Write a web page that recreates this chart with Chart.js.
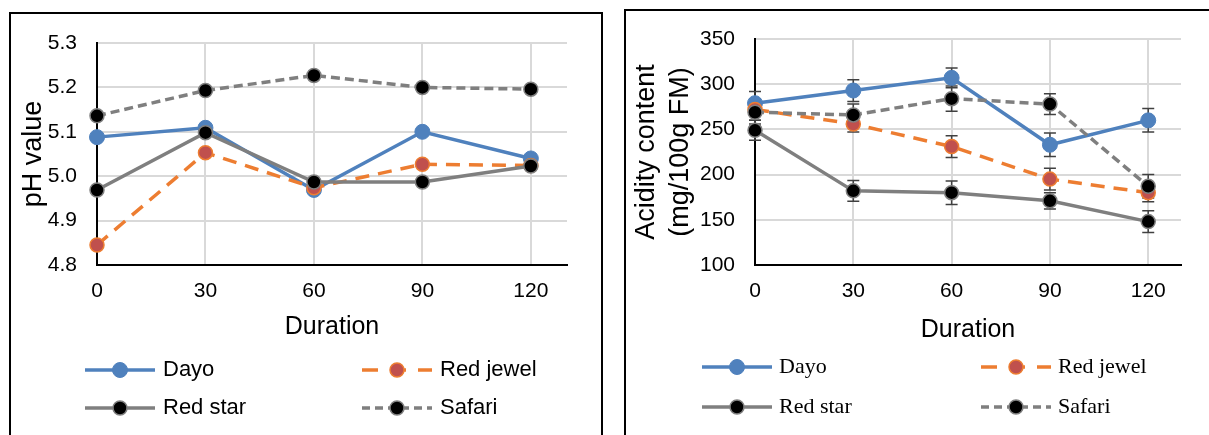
<!DOCTYPE html>
<html>
<head>
<meta charset="utf-8">
<script src="https://cdn.jsdelivr.net/npm/chart.js@4"></script>
<style>
html, body { margin: 0; padding: 0; background: #fff; }
body { position: relative; width: 1209px; height: 435px; overflow: hidden; }
.box { position: absolute; border: 2px solid #000; border-bottom: none; }
#boxL { left: 9px; top: 12px; width: 590px; height: 440px; }
#boxR { left: 624px; top: 9px; width: 600px; height: 440px; }
canvas { position: absolute; top: 0; }
#phChart { left: 0; }
#acChart { left: 605px; }
</style>
</head>
<body>
<div class="box" id="boxL"></div>
<div class="box" id="boxR"></div>
<canvas id="phChart" width="605" height="435"></canvas>
<canvas id="acChart" width="604" height="435"></canvas>
<script>
// durations (x) shared by both charts
const durations = [0, 30, 60, 90, 120];
const seriesNames = ['Dayo', 'Red jewel', 'Red star', 'Safari'];

// pH values
const phDayo = [5.088, 5.109, 4.969, 5.100, 5.040];
const phRedJewel = [4.845, 5.053, 4.974, 5.027, 5.024];
const phRedStar = [4.969, 5.098, 4.987, 4.987, 5.023];
const phSafari = [5.136, 5.193, 5.227, 5.200, 5.196];

// acidity content (mg/100g FM) and its error bars
const acDayo = [279, 293, 307, 233, 260];
const acRedJewel = [272, 256, 231, 195, 180];
const acRedStar = [249, 182, 180, 171, 148];
const acSafari = [269, 266, 284, 278, 187];
const errDayo = [13, 12, 11, 13, 13];
const errRedJewel = [12, 9, 12, 12, 10];
const errRedStar = [11, 11.5, 13, 9, 12];
const errSafari = [13, 12, 14, 11.5, 13];

Chart.defaults.font.family = '"Liberation Sans", Arial, sans-serif';
Chart.defaults.color = '#000';

const toPoints = vals => vals.map((v, i) => ({ x: durations[i], y: v }));

// series looks, same in both charts
function makeDatasets(values, errors) {
  const styles = [
    { borderColor: '#4F81BD', borderDash: [], legendDash: [], pointBackgroundColor: '#4F81BD', pointBorderColor: '#4F81BD', pointRadius: 7.5, pointBorderWidth: 1, order: 3 },
    { borderColor: '#ED7D31', borderDash: [14, 9], legendDash: [16, 12], pointBackgroundColor: '#C0504D', pointBorderColor: '#ED7D31', pointRadius: 7, pointBorderWidth: 1.5, order: 2 },
    { borderColor: '#7F7F7F', borderDash: [], legendDash: [], pointBackgroundColor: '#000', pointBorderColor: '#7F7F7F', pointRadius: 7, pointBorderWidth: 1.5, order: 1 },
    { borderColor: '#7F7F7F', borderDash: [9, 5], legendDash: [8, 5], pointBackgroundColor: '#000', pointBorderColor: '#7F7F7F', pointRadius: 7, pointBorderWidth: 1.5, order: 0 }
  ];
  return values.map((vals, i) => Object.assign({
    label: seriesNames[i],
    data: toPoints(vals),
    errors: errors ? errors[i] : null,
    borderWidth: 3.5,
    tension: 0,
    clip: false
  }, styles[i]));
}

// two-column legend under the axis title, like the Excel one
const gridLegend = {
  id: 'gridLegend',
  afterDraw(chart, args, opts) {
    const ctx = chart.ctx;
    chart.data.datasets.forEach((ds, i) => {
      const x0 = opts.cols[i % 2];
      const y = opts.rows[Math.floor(i / 2)];
      const x1 = x0 + opts.lineLen;
      ctx.save();
      ctx.strokeStyle = ds.borderColor;
      ctx.lineWidth = ds.borderWidth;
      ctx.setLineDash(ds.legendDash);
      ctx.beginPath();
      ctx.moveTo(x0, y);
      ctx.lineTo(x1, y);
      ctx.stroke();
      ctx.setLineDash([]);
      ctx.beginPath();
      ctx.arc((x0 + x1) / 2, y, ds.pointRadius, 0, Math.PI * 2);
      ctx.fillStyle = ds.pointBackgroundColor;
      ctx.fill();
      ctx.lineWidth = ds.pointBorderWidth;
      ctx.strokeStyle = ds.pointBorderColor;
      ctx.stroke();
      ctx.fillStyle = '#000';
      ctx.font = opts.font;
      ctx.textAlign = 'left';
      ctx.textBaseline = 'middle';
      ctx.fillText(ds.label, x1 + opts.gap, y);
      ctx.restore();
    });
  }
};

const errorBars = {
  id: 'errorBars',
  beforeDatasetsDraw(chart, args, opts) {
    const { ctx, scales: { x, y } } = chart;
    ctx.save();
    ctx.strokeStyle = opts.color;
    ctx.lineWidth = opts.width;
    chart.data.datasets.forEach(ds => {
      if (!ds.errors) return;
      ds.data.forEach((p, j) => {
        const e = ds.errors[j];
        const px = x.getPixelForValue(p.x);
        const top = y.getPixelForValue(p.y + e);
        const bot = y.getPixelForValue(p.y - e);
        ctx.beginPath();
        ctx.moveTo(px, top); ctx.lineTo(px, bot);
        ctx.moveTo(px - opts.cap, top); ctx.lineTo(px + opts.cap, top);
        ctx.moveTo(px - opts.cap, bot); ctx.lineTo(px + opts.cap, bot);
        ctx.stroke();
      });
    });
    ctx.restore();
  }
};

function xScale(height) {
  return {
    type: 'linear',
    min: 0,
    max: 130,
    afterBuildTicks: s => { s.ticks = durations.map(v => ({ value: v })); },
    afterFit: s => { s.height = height; },
    grid: { color: '#D9D9D9', lineWidth: 2, drawTicks: false },
    border: { color: '#000', width: 2 },
    ticks: { font: { size: 21 }, padding: 14 },
    title: { display: true, text: 'Duration', font: { size: 25 }, padding: 0 }
  };
}

new Chart(document.getElementById('phChart'), {
  type: 'line',
  data: { datasets: makeDatasets([phDayo, phRedJewel, phRedStar, phSafari]) },
  options: {
    responsive: false,
    animation: false,
    devicePixelRatio: 1,
    layout: { padding: { left: 12, top: 43, right: 38, bottom: 93 } },
    plugins: {
      legend: { display: false },
      tooltip: { enabled: false },
      gridLegend: { cols: [85, 362], rows: [370, 408], lineLen: 70, gap: 8, font: '22px "Liberation Sans", Arial' }
    },
    scales: {
      x: xScale(77),
      y: {
        min: 4.8,
        max: 5.3,
        afterFit: s => { s.width = 85; },
        grid: { color: '#D9D9D9', lineWidth: 2, drawTicks: false },
        border: { color: '#000', width: 2 },
        ticks: { stepSize: 0.1, padding: 20, font: { size: 21 }, callback: v => v.toFixed(1) },
        title: { display: true, text: 'pH value', font: { size: 27 }, padding: { top: 5 } }
      }
    }
  },
  plugins: [gridLegend]
});

new Chart(document.getElementById('acChart'), {
  type: 'line',
  data: {
    datasets: makeDatasets([acDayo, acRedJewel, acRedStar, acSafari], [errDayo, errRedJewel, errRedStar, errSafari])
  },
  options: {
    responsive: false,
    animation: false,
    devicePixelRatio: 1,
    layout: { padding: { left: 22, top: 39, right: 28, bottom: 90 } },
    plugins: {
      legend: { display: false },
      tooltip: { enabled: false },
      gridLegend: { cols: [97, 376], rows: [367, 407], lineLen: 70, gap: 7, font: '22px "Liberation Serif", "Times New Roman", serif' },
      errorBars: { color: '#404040', width: 1.5, cap: 6 }
    },
    scales: {
      x: xScale(80),
      y: {
        min: 100,
        max: 350,
        afterFit: s => { s.width = 128; },
        grid: { color: '#D9D9D9', lineWidth: 2, drawTicks: false },
        border: { color: '#000', width: 2 },
        ticks: { stepSize: 50, padding: 20, font: { size: 21 } },
        title: {
          display: true,
          text: ['Acidity content', '(mg/100g FM)'],
          font: { size: 27, lineHeight: 1.25 },
          padding: { top: 3 }
        }
      }
    }
  },
  plugins: [gridLegend, errorBars]
});
</script>
</body>
</html>
